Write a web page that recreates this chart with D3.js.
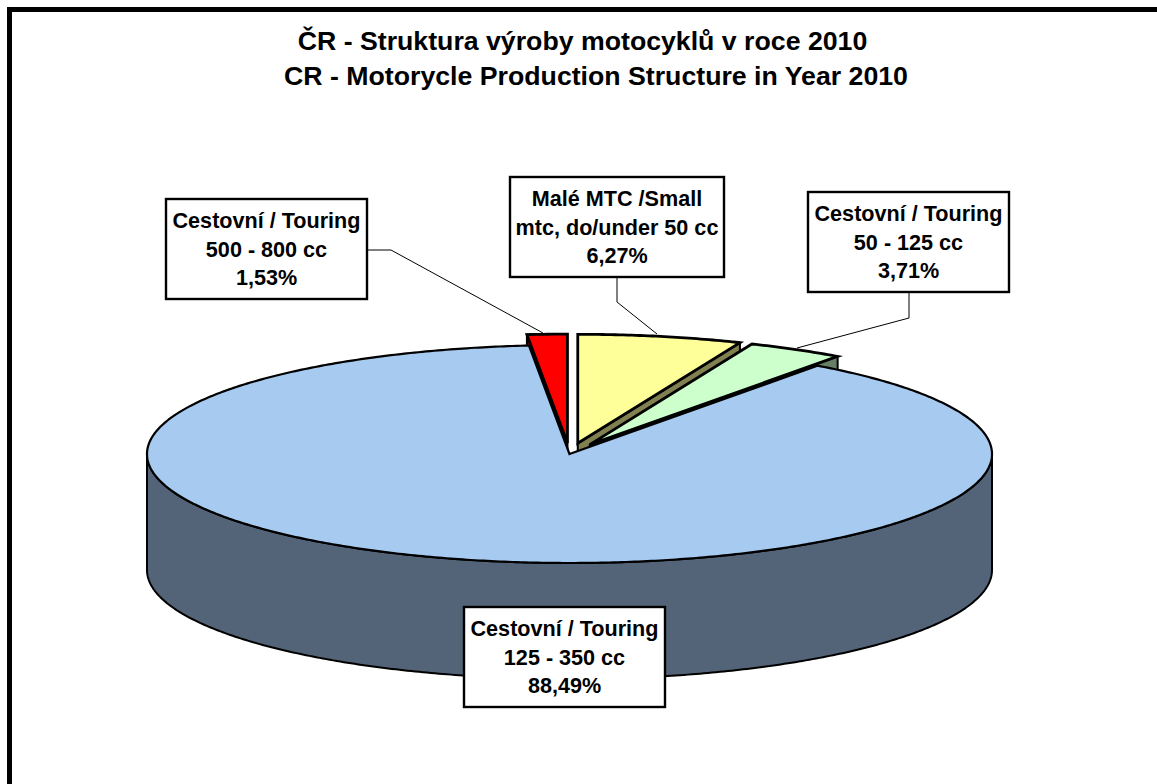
<!DOCTYPE html>
<html>
<head>
<meta charset="utf-8">
<script src="https://cdn.jsdelivr.net/npm/d3@7/dist/d3.min.js"></script>
<style>
html,body{margin:0;padding:0;background:#fff;overflow:hidden}
text{font-family:"Liberation Sans",Arial,sans-serif;font-weight:bold;fill:#000;text-anchor:middle}
</style>
</head>
<body>
<svg id="c" width="1157" height="784"></svg>
<script>
const titleLines = ["ČR - Struktura výroby motocyklů v roce 2010", "CR - Motorycle Production Structure in Year 2010"];
const categories = ["Malé MTC /Small|mtc, do/under 50 cc", "Cestovní / Touring|50 - 125 cc", "Cestovní / Touring|125 - 350 cc", "Cestovní / Touring|500 - 800 cc"];
const values = [6.27, 3.71, 88.49, 1.53];
const valueLabels = ["6,27%", "3,71%", "88,49%", "1,53%"];
const topColors = ["#ffff99", "#ccffcc", "#a6caf0", "#ff0000"];
const wallColors = ["#808050", "#668066", "#536478", "#800000"];
const explode = [0.1, 0.098, 0, 0.1];
const boxes = [[510,177],[808,192],[464,607],[166,199]];
const leaders = [
  [[617,277],[617,302],[657,334]],
  [[909,292],[909,318],[797,348]],
  null,
  [[367,250],[391,250],[543,333]]
];

const svg = d3.select("#c");
const cx = 569.5, cy = 454, rx = 422.5, ry = 109, depth = 116;
const boxW = 201, boxH = 100;

svg.append("rect").attr("x",9.5).attr("y",9.5).attr("width",1300).attr("height",900)
  .attr("fill","#fff").attr("stroke","#000").attr("stroke-width",5);

titleLines.forEach((t,i)=>{
  svg.append("text").attr("x",i?596:582.5).attr("y",i?85:50).attr("font-size",26.7).text(t);
});

const pie = d3.pie().sort(null).value(d=>d).startAngle(0).endAngle(2*Math.PI);
const arcs = pie(values);
const line = d3.line();

function slice(i){
  const a = arcs[i], mid = (a.startAngle+a.endAngle)/2, e = explode[i];
  const ox = cx + e*rx*Math.sin(mid), oy = cy - e*ry*Math.cos(mid);
  const pt = (ang,z=0)=>[ox+rx*Math.sin(ang), oy-ry*Math.cos(ang)+z];
  return {a,ox,oy,pt};
}
function sweep(a0,a1,z,pt){
  const n = Math.max(2,Math.ceil(Math.abs(a1-a0)/0.01));
  return d3.range(n+1).map(k=>pt(a0+(a1-a0)*k/n,z));
}
function drawWall(i,pts){
  svg.append("path").attr("d",line(pts)+"Z").attr("fill",wallColors[i])
    .attr("stroke","#000").attr("stroke-width",2).attr("stroke-linejoin","round");
}
function drawTop(i,sw){
  const {a,ox,oy,pt} = slice(i);
  const pts = [[ox,oy],...sweep(a.startAngle,a.endAngle,0,pt)];
  svg.append("path").attr("d",line(pts)+"Z").attr("fill",topColors[i])
    .attr("stroke","#000").attr("stroke-width",sw).attr("stroke-linejoin","miter");
}

[3,0,1].forEach(i=>{
  const {a,ox,oy,pt} = slice(i);
  const cut = i===3 ? a.startAngle : a.endAngle;
  drawWall(i,[[ox,oy],pt(cut),pt(cut,depth),[ox,oy+depth]]);
  drawTop(i,2.8);
});
{
  const {pt} = slice(2);
  const front = sweep(Math.PI/2,3*Math.PI/2,0,pt);
  const back = sweep(3*Math.PI/2,Math.PI/2,depth,pt);
  drawWall(2,[...front,...back]);
  drawTop(2,2.2);
}

leaders.forEach(l=>{
  if(!l) return;
  svg.append("path").attr("d",line(l)).attr("fill","none").attr("stroke","#000").attr("stroke-width",1);
});

categories.forEach((c,i)=>{
  const [bx,by] = boxes[i];
  const w = i===0 ? 214 : boxW;
  svg.append("rect").attr("x",bx).attr("y",by).attr("width",w).attr("height",boxH)
    .attr("fill","#fff").attr("stroke","#000").attr("stroke-width",2.4);
  const lines = [...c.split("|"),valueLabels[i]];
  lines.forEach((t,k)=>{
    svg.append("text").attr("x",bx+w/2).attr("y",by+29+k*28.5).attr("font-size",21.6).text(t);
  });
});
</script>
</body>
</html>
